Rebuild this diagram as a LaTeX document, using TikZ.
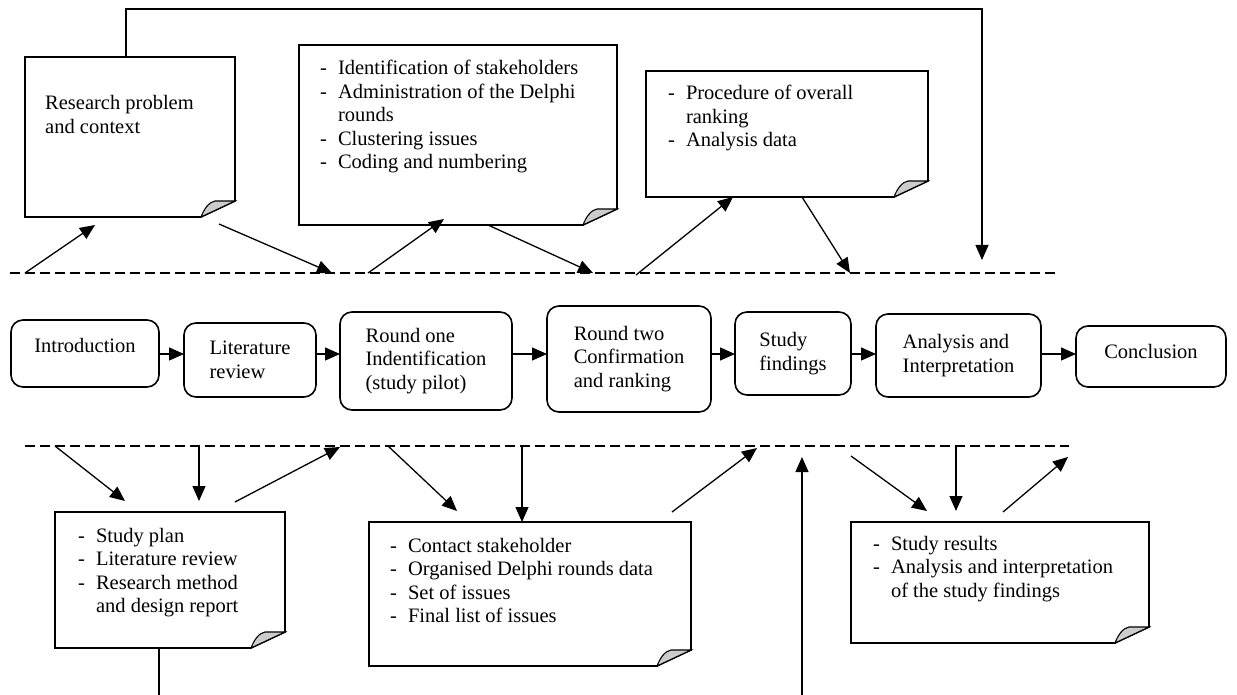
\documentclass[tikz,border=0pt]{standalone}
\usepackage{fontspec}
\setmainfont{Liberation Serif}
\usetikzlibrary{arrows.meta}

\newcommand{\diagfont}{\fontsize{20.5}{23.5}\selectfont}
% note outline with the curled lower right corner
\newcommand{\pagefold}[1]{%
  \draw[noteframe] (#1.north west) -- (#1.north east) -- ([yshift=16pt]#1.south east)
    -- ([xshift=-34pt]#1.south east) -- (#1.south west) -- cycle;
  \filldraw[foldpart] ([xshift=-34pt]#1.south east) -- ([yshift=16pt]#1.south east)
    -- ([xshift=-20pt,yshift=16pt]#1.south east)
    .. controls ([xshift=-26pt,yshift=15pt]#1.south east) and ([xshift=-31pt,yshift=8pt]#1.south east)
    .. ([xshift=-34pt]#1.south east) -- cycle;}

\begin{document}
\begin{tikzpicture}[x=1pt,y=-1pt,
  stepbox/.style={draw, line width=1.6pt, rounded corners=12pt, align=left,
    inner sep=0pt, outer sep=0pt, font=\diagfont},
  notearea/.style={inner sep=0pt, outer sep=0pt, anchor=north west},
  notetext/.style={inner sep=0pt, anchor=base west, font=\diagfont},
  noteframe/.style={line width=1.6pt, fill=white},
  foldpart/.style={line width=1.1pt, fill=gray!40},
  flow/.style={-{Triangle[length=15pt,width=13pt]}, line width=1.3pt},
  divider/.style={line width=1.3pt, dash pattern=on 10pt off 5pt}]

  \useasboundingbox (0,0) rectangle (1237,695);

  % notes above the process
  \node[notearea, minimum width=210pt, minimum height=160pt] (probctx) at (25,57) {};
  \node[notearea, minimum width=318pt, minimum height=180pt] (delphiadm) at (299,45) {};
  \node[notearea, minimum width=282pt, minimum height=126pt] (ranking) at (646,71) {};
  \pagefold{probctx}
  \pagefold{delphiadm}
  \pagefold{ranking}
  \node[notetext] (probctx-txt) at (45,110) {\begin{tabular}[t]{@{}l@{}}
    Research problem\\and context\end{tabular}};
  \node[notetext] (delphiadm-txt) at (320,75) {\begin{tabular}[t]{@{}l@{\hspace{11pt}}l@{}}
    -&Identification of stakeholders\\
    -&Administration of the Delphi\\
     &rounds\\
    -&Clustering issues\\
    -&Coding and numbering\end{tabular}};
  \node[notetext] (ranking-txt) at (668,100) {\begin{tabular}[t]{@{}l@{\hspace{11pt}}l@{}}
    -&Procedure of overall\\
     &ranking\\
    -&Analysis data\end{tabular}};

  % notes below the process
  \node[notearea, minimum width=230pt, minimum height=136pt] (studyplan) at (55,512) {};
  \node[notearea, minimum width=322pt, minimum height=144pt] (contact) at (369,522) {};
  \node[notearea, minimum width=298pt, minimum height=121pt] (results) at (851,522) {};
  \pagefold{studyplan}
  \pagefold{contact}
  \pagefold{results}
  \node[notetext] (studyplan-txt) at (78,542) {\begin{tabular}[t]{@{}l@{\hspace{11pt}}l@{}}
    -&Study plan\\
    -&Literature review\\
    -&Research method\\
     &and design report\end{tabular}};
  \node[notetext] (contact-txt) at (390,552) {\begin{tabular}[t]{@{}l@{\hspace{11pt}}l@{}}
    -&Contact stakeholder\\
    -&Organised Delphi rounds data\\
    -&Set of issues\\
    -&Final list of issues\end{tabular}};
  \node[notetext] (results-txt) at (873,550) {\begin{tabular}[t]{@{}l@{\hspace{11pt}}l@{}}
    -&Study results\\
    -&Analysis and interpretation\\
     &of the study findings\end{tabular}};

  % the process
  \node[stepbox, minimum width=148pt, minimum height=67pt, text depth=17pt] (intro) at (85,353.5) {Introduction};
  \node[stepbox, minimum width=132pt, minimum height=74pt] (litrev) at (250,360) {Literature\\review};
  \node[stepbox, minimum width=172pt, minimum height=98pt] (roundone) at (426,361) {Round one\\Indentification\\(study pilot)};
  \node[stepbox, minimum width=164pt, minimum height=106pt] (roundtwo) at (629,359) {Round two\\Confirmation\\and ranking};
  \node[stepbox, minimum width=116pt, minimum height=83pt] (findings) at (793,353.5) {Study\\findings};
  \node[stepbox, minimum width=165pt, minimum height=83pt] (analysis) at (958.5,355.5) {Analysis and\\Interpretation};
  \node[stepbox, minimum width=150pt, minimum height=61pt, text depth=11pt] (conclusion) at (1151,356.5) {Conclusion};

  \coordinate (mid) at (0,354);
  \draw[flow] (intro.east |- mid) -- (litrev.west |- mid);
  \draw[flow] (litrev.east |- mid) -- (roundone.west |- mid);
  \draw[flow] (roundone.east |- mid) -- (roundtwo.west |- mid);
  \draw[flow] (roundtwo.east |- mid) -- (findings.west |- mid);
  \draw[flow] (findings.east |- mid) -- (analysis.west |- mid);
  \draw[flow] (analysis.east |- mid) -- (conclusion.west |- mid);

  % dashed lines
  \coordinate (topL) at (10,273);
  \coordinate (topR) at (1055,273);
  \coordinate (botL) at (25,446);
  \coordinate (botR) at (1069,446);
  \draw[divider] (topL) -- (topR);
  \draw[divider] (botL) -- (botR);

  % arrows above
  \coordinate (tp1) at (25,273);
  \coordinate (tq1) at (95,225);
  \coordinate (tq2) at (219,224);
  \coordinate (tp2) at (332,273);
  \coordinate (tp3) at (368,273);
  \coordinate (tp4) at (593,273);
  \coordinate (tp5) at (636,275);
  \coordinate (tp6) at (850,273);
  \draw[flow] (tp1) -- (tq1);
  \draw[flow] (tq2) -- (tp2);
  \draw[flow] (tp3) -- ([xshift=-14pt,yshift=6pt]delphiadm.south);
  \draw[flow] ([xshift=30pt]delphiadm.south) -- (tp4);
  \draw[flow] (tp5) -- ([xshift=-54pt]ranking.south);
  \draw[flow] ([xshift=15pt]ranking.south) -- (tp6);

  \coordinate (fbtop) at (982,9);
  \coordinate (fbend) at (982,260);
  \draw[flow] ([xshift=-4pt]probctx.north) |- (fbtop) -- (fbend);

  % arrows below
  \coordinate (bp1) at (55,446);
  \coordinate (bq1) at (125,501);
  \coordinate (bp2) at (199,446);
  \coordinate (bq2) at (199,501);
  \coordinate (bq3) at (235,502);
  \coordinate (bp3) at (340,447);
  \coordinate (bp4) at (388,446);
  \coordinate (bq4) at (457,511);
  \coordinate (bp5) at (522,446);
  \coordinate (bq5) at (672,512);
  \coordinate (bp6) at (757,448);
  \coordinate (bq6) at (802,695);
  \coordinate (bp7) at (802,457);
  \coordinate (bp8) at (851,456);
  \coordinate (bq7) at (927,511);
  \coordinate (bp9) at (956,446);
  \coordinate (bq8) at (956,511);
  \coordinate (bq9) at (1003,512);
  \coordinate (bp10) at (1068,457);
  \draw[flow] (bp1) -- (bq1);
  \draw[flow] (bp2) -- (bq2);
  \draw[flow] (bq3) -- (bp3);
  \draw[flow] (bp4) -- (bq4);
  \draw[flow] (bp5) -- ([xshift=-8pt]contact.north);
  \draw[flow] (bq5) -- (bp6);
  \draw[flow] (bq6) -- (bp7);
  \draw[flow] (bp8) -- (bq7);
  \draw[flow] (bp9) -- (bq8);
  \draw[flow] (bq9) -- (bp10);
  \draw[line width=1.3pt] ([xshift=-11pt]studyplan.south) -- ++(0,47);
\end{tikzpicture}
\end{document}
